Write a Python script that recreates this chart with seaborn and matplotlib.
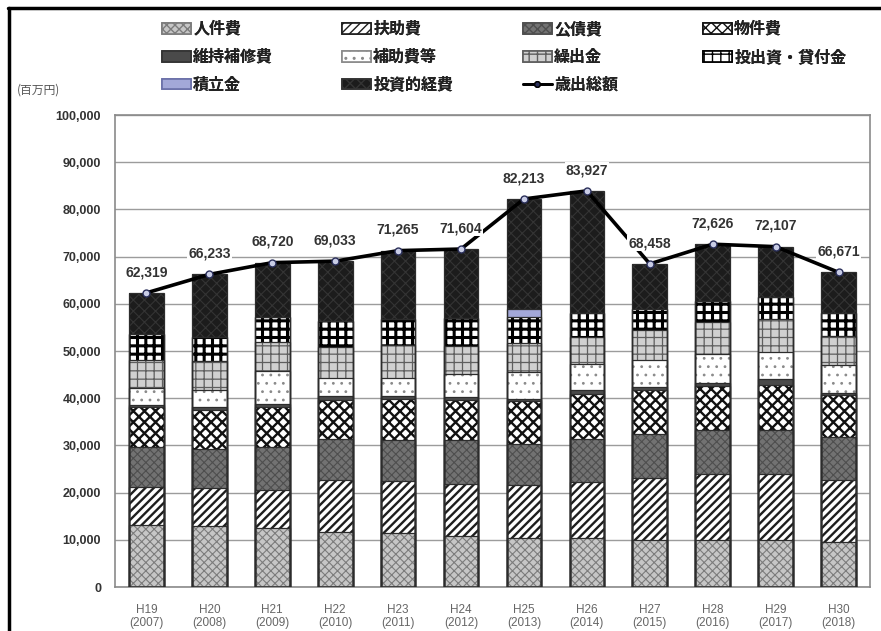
import numpy as np
import pandas as pd
import matplotlib
matplotlib.use("Agg")
import matplotlib.pyplot as plt
from matplotlib.lines import Line2D
from matplotlib.patches import Patch
from matplotlib.ticker import FuncFormatter
import seaborn as sns

# ---- data (百万円) ----
eras = ["H19", "H20", "H21", "H22", "H23", "H24", "H25", "H26", "H27", "H28", "H29", "H30"]
years = ["2007", "2008", "2009", "2010", "2011", "2012", "2013", "2014", "2015", "2016", "2017", "2018"]

jinkenhi   = [13040, 12900, 12400, 11700, 11350, 10780, 10290, 10290, 9940, 9940, 9940, 9580]      # 人件費
fujohi     = [8170, 8100, 8250, 11060, 11130, 11140, 11270, 11980, 13250, 14090, 13950, 13040]    # 扶助費
kousaihi   = [8460, 8320, 9020, 8670, 8740, 9160, 8810, 9160, 9300, 9300, 9440, 9160]            # 公債費
butsukenhi = [8450, 8240, 8450, 8250, 8670, 8600, 9020, 9510, 9300, 9160, 9380, 8810]            # 物件費
ijihoshu   = [480, 540, 580, 700, 490, 560, 500, 710, 560, 710, 1400, 490]                       # 維持補修費
hojohi     = [3610, 3550, 7040, 3880, 3880, 4790, 5630, 5500, 5640, 6060, 5640, 5850]            # 補助費等
kuridashi  = [5920, 6200, 6130, 6550, 7040, 6130, 6140, 5780, 6480, 6830, 7050, 6350]            # 繰出金
shusshi    = [5500, 5210, 5280, 5500, 5500, 5780, 5490, 5140, 4440, 4590, 4580, 4720]            # 投出資・貸付金
tsumitate  = [0, 0, 0, 0, 0, 0, 1760, 0, 0, 0, 0, 0]                                             # 積立金
toushiteki = [8689, 13173, 11570, 12723, 14465, 14664, 23303, 25857, 9548, 11946, 10727, 8671]   # 投資的経費
total      = [62319, 66233, 68720, 69033, 71265, 71604, 82213, 83927, 68458, 72626, 72107, 66671] # 歳出総額

series_names = ["人件費", "扶助費", "公債費", "物件費", "維持補修費", "補助費等",
                "繰出金", "投出資・貸付金", "積立金", "投資的経費"]
series_vals = [jinkenhi, fujohi, kousaihi, butsukenhi, ijihoshu, hojohi,
               kuridashi, shusshi, tsumitate, toushiteki]
total_name = "歳出総額"

# fill colour, hatch pattern, hatch colour, hatch line width per segment
styles = [
    ("#c6c6c6", "xxxx", "#7c7c7c", 0.8),
    ("#ffffff", "////", "#1e1e1e", 1.7),
    ("#727272", "xxxx", "#4e4e4e", 0.8),
    ("#ffffff", "xxx", "#111111", 1.7),
    ("#4a4a4a", "", "#333333", 0.8),
    ("#ffffff", "..", "#8a8a8a", 0.8),
    ("#d0d0d0", "++", "#5e5e5e", 0.9),
    ("#ffffff", "++", "#000000", 2.2),
    ("#a3a8d8", "", "#6a70a8", 0.8),
    ("#1c1c1c", "xxx", "#343434", 0.8),
]

# ---- style ----
sns.set_style("white")
plt.rcParams["font.family"] = ["Noto Sans CJK JP", "DejaVu Sans"]
plt.rcParams["hatch.linewidth"] = 1.0
per_patch_hatch_lw = hasattr(Patch, "set_hatch_linewidth")

cats = [f"{e}\n({y})" for e, y in zip(eras, years)]
stack = np.cumsum(np.array(series_vals, dtype=float), axis=0)

fig = plt.figure(figsize=(8.81, 6.31), dpi=100)
W, H = 881, 631
ax = fig.add_axes([115 / W, 1 - 587 / H, (870 - 115) / W, (587 - 115) / H])

bar_w = 0.55
# stacked bars: draw cumulative heights from the top layer down
for k in reversed(range(len(series_vals))):
    face, hatch, hcol, hlw = styles[k]
    n_before = len(ax.patches)
    df = pd.DataFrame({"cat": cats, "val": stack[k]})
    sns.barplot(data=df, x="cat", y="val", ax=ax, color=face, saturation=1,
                width=bar_w, errorbar=None, hatch=hatch, edgecolor=hcol,
                linewidth=0, zorder=2)
    if per_patch_hatch_lw:
        for p in ax.patches[n_before:]:
            p.set_hatch_linewidth(hlw)
# segment outlines
for k in reversed(range(len(series_vals))):
    df = pd.DataFrame({"cat": cats, "val": stack[k]})
    sns.barplot(data=df, x="cat", y="val", ax=ax, fill=False, color="#2c2c2c",
                width=bar_w, errorbar=None, linewidth=0.9, zorder=3)

# total line
xpos = np.arange(len(cats))
sns.lineplot(x=xpos, y=total, ax=ax, color="black", linewidth=2.6, marker="o",
             markersize=5, markerfacecolor="#c9cde6", markeredgecolor="#2a2f5a",
             markeredgewidth=1.0, legend=False, zorder=5)

for i, v in enumerate(total):
    ax.annotate(f"{v:,}", (i, v), xytext=(0, 15), textcoords="offset points",
                ha="center", va="center", fontsize=10, fontweight="bold",
                color="#333333", family=["Liberation Sans", "DejaVu Sans"],
                bbox=dict(boxstyle="square,pad=0.08", fc="white", ec="none"),
                zorder=6)

# axes
ax.set_xlim(-0.5, len(cats) - 0.5)
ax.set_ylim(0, 100000)
ax.set_yticks(np.arange(0, 100001, 10000))
ax.yaxis.set_major_formatter(FuncFormatter(lambda v, p: f"{int(v):,}"))
ax.set_xlabel("")
ax.set_ylabel("")
ax.grid(axis="y", color="#9c9c9c", linewidth=1.0, zorder=0)
ax.set_axisbelow(True)
for s in ax.spines.values():
    s.set_color("#8a8a8a")
    s.set_linewidth(1.2)
ax.tick_params(axis="y", length=4, color="#8a8a8a", pad=6, labelsize=9,
               labelcolor="#333333")
ax.tick_params(axis="x", length=0, pad=12, labelsize=8.5, labelcolor="#666666")
for t in ax.get_yticklabels():
    t.set_fontweight("bold")
    t.set_family(["Liberation Sans", "DejaVu Sans"])
for t in ax.get_xticklabels():
    t.set_family(["Liberation Sans", "DejaVu Sans"])
    t.set_linespacing(1.1)

# legend in four columns
handles = []
for (face, hatch, hcol, hlw) in styles:
    hp = Patch(facecolor=face, hatch=hatch, edgecolor=hcol, linewidth=1.2)
    if per_patch_hatch_lw:
        hp.set_hatch_linewidth(min(hlw, 1.2))
    handles.append(hp)
line_handle = Line2D([], [], color="black", linewidth=2, marker="o", markersize=4,
                     markerfacecolor="#2a2f5a", markeredgecolor="black")

col_items = [
    ([handles[0], handles[4], handles[8]], [series_names[0], series_names[4], series_names[8]]),
    ([handles[1], handles[5], handles[9]], [series_names[1], series_names[5], series_names[9]]),
    ([handles[2], handles[6], line_handle], [series_names[2], series_names[6], total_name]),
    ([handles[3], handles[7]], [series_names[3], series_names[7]]),
]
col_x = [162, 342, 523, 703]
for (hs, ls), cx in zip(col_items, col_x):
    leg = fig.legend(hs, ls, loc="upper left", bbox_to_anchor=(cx / W, 1 - 21 / H),
                     frameon=False, borderpad=0, borderaxespad=0,
                     handlelength=1.8, handleheight=0.65, handletextpad=0.15,
                     labelspacing=0.74, prop={"size": 11.5, "weight": "bold"})
    for t in leg.get_texts():
        t.set_color("#222222")
    fig.add_artist(leg)

fig.text(17 / W, 1 - 90 / H, "(百万円)", fontsize=8.5, color="#555555", va="center")

# outer frame lines
fig.add_artist(Line2D([8 / W, 1], [1 - 7.5 / H, 1 - 7.5 / H], color="black",
                      linewidth=2.5, transform=fig.transFigure))
fig.add_artist(Line2D([9 / W, 9 / W], [0, 1 - 7.5 / H], color="black",
                      linewidth=2.5, transform=fig.transFigure))

fig.savefig("out.png", dpi=100)
